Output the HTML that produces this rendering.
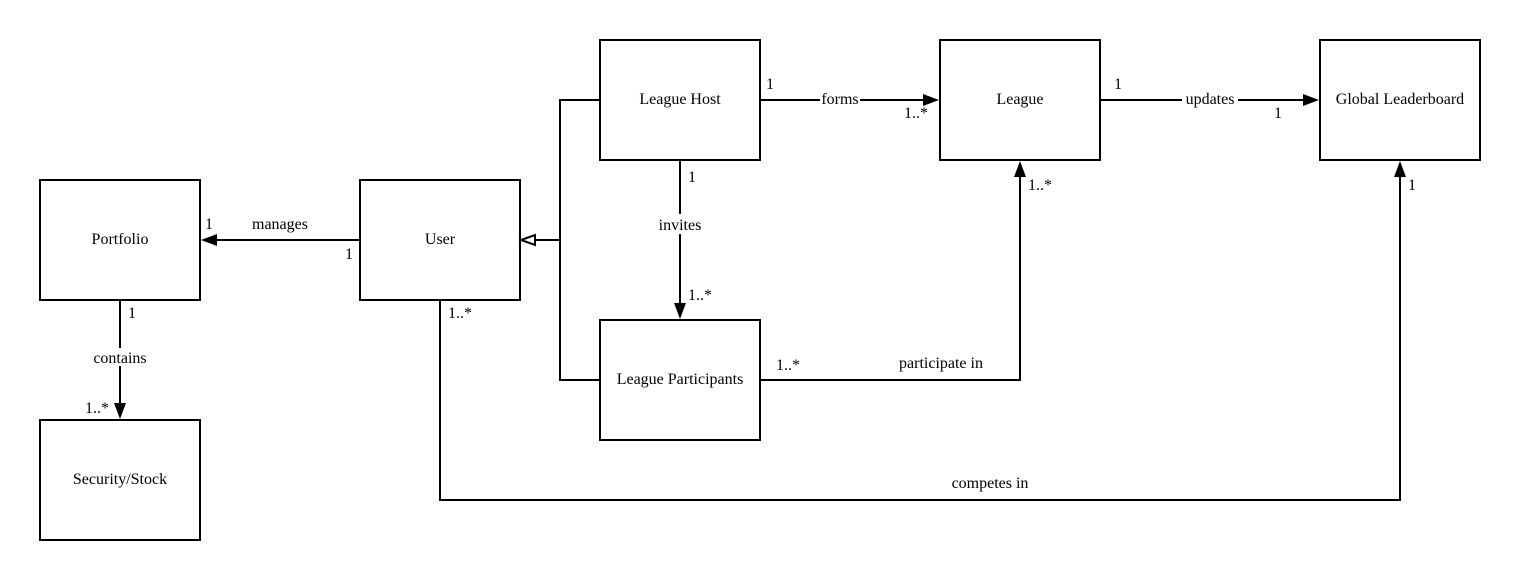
<!DOCTYPE html>
<html><head><style>body{margin:0;background:#fff}svg{display:block}text{font-family:"Liberation Serif",serif;font-size:16px;fill:#000}</style></head><body>
<svg width="1520" height="580" viewBox="0 0 1520 580" xmlns="http://www.w3.org/2000/svg">
<g fill="none" stroke="#000" stroke-width="2">
<rect x="40" y="180" width="160" height="120"/>
<rect x="40" y="420" width="160" height="120"/>
<rect x="360" y="180" width="160" height="120"/>
<rect x="600" y="40" width="160" height="120"/>
<rect x="600" y="320" width="160" height="120"/>
<rect x="940" y="40" width="160" height="120"/>
<rect x="1320" y="40" width="160" height="120"/>
<line x1="360" y1="240" x2="216" y2="240"/>
<line x1="120" y1="300" x2="120" y2="404"/>
<polyline points="600,100 560,100 560,380 600,380"/>
<line x1="560" y1="240" x2="534" y2="240"/>
<line x1="760" y1="100" x2="924" y2="100"/>
<line x1="1100" y1="100" x2="1304" y2="100"/>
<line x1="680" y1="160" x2="680" y2="304"/>
<polyline points="760,380 1020,380 1020,176"/>
<polyline points="440,300 440,500 1400,500 1400,176"/>
</g>
<g fill="#000">
<polygon points="201,240 217,234 217,246"/>
<polygon points="120,419 114,403 126,403"/>
<polygon points="939,100 923,94 923,106"/>
<polygon points="1319,100 1303,94 1303,106"/>
<polygon points="680,319 674,303 686,303"/>
<polygon points="1020,161 1014,177 1026,177"/>
<polygon points="1400,161 1394,177 1406,177"/>
</g>
<polygon points="521,240 535,235 535,245" fill="#fff" stroke="#000" stroke-width="2"/>
<g fill="#fff">
<rect x="90" y="348" width="60" height="18"/>
<rect x="820" y="92" width="40" height="14"/>
<rect x="1182" y="92" width="56" height="14"/>
<rect x="656" y="214" width="48" height="20"/>
</g>
<g text-anchor="middle">
<text x="120" y="244">Portfolio</text>
<text x="120" y="484">Security/Stock</text>
<text x="440" y="244">User</text>
<text x="680" y="104">League Host</text>
<text x="680" y="384">League Participants</text>
<text x="1020" y="104">League</text>
<text x="1400" y="104">Global Leaderboard</text>
<text x="280" y="229">manages</text>
<text x="120" y="363">contains</text>
<text x="840" y="104">forms</text>
<text x="1210" y="104">updates</text>
<text x="680" y="230">invites</text>
<text x="941" y="368">participate in</text>
<text x="990" y="488">competes in</text>
</g>
<text x="205" y="229">1</text>
<text x="345" y="259">1</text>
<text x="128" y="318">1</text>
<text x="85" y="413">1..*</text>
<text x="448" y="318">1..*</text>
<text x="766" y="89">1</text>
<text x="904" y="118">1..*</text>
<text x="1114" y="89">1</text>
<text x="1274" y="118">1</text>
<text x="688" y="182">1</text>
<text x="688" y="300">1..*</text>
<text x="776" y="370">1..*</text>
<text x="1028" y="190">1..*</text>
<text x="1408" y="190">1</text>
</svg>
</body></html>
